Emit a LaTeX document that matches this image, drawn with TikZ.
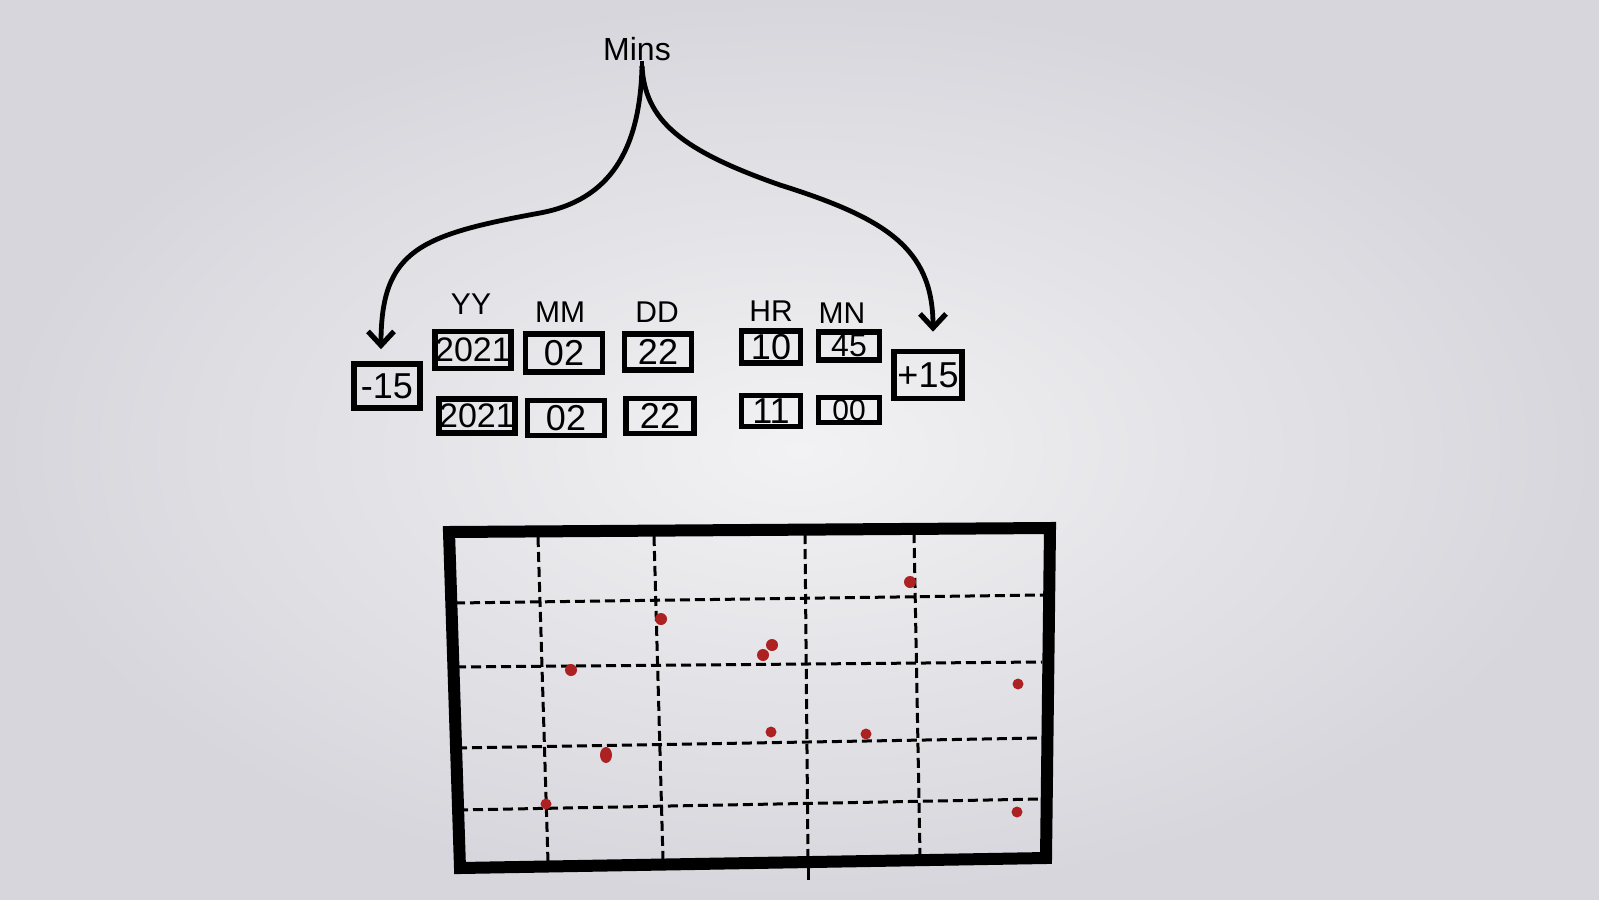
\documentclass[tikz,border=0pt]{standalone}
\usepackage{fontspec}
\setmainfont{Liberation Sans}
\usetikzlibrary{arrows.meta}
\definecolor{bgin}{RGB}{242,242,244}
\definecolor{bgout}{RGB}{214,214,220}
\definecolor{dotred}{RGB}{172,34,34}
\begin{document}
\begin{tikzpicture}[x=0.5pt,y=-0.5pt,
  valbox/.style={draw=black,line width=2.8pt,inner sep=0pt,font=\fontsize{18}{18}\selectfont},
  lab/.style={inner sep=0pt,font=\fontsize{15}{15}\selectfont},
  gridline/.style={line width=1.5pt,dash pattern=on 5pt off 2.5pt},
  conn/.style={line width=2.4pt,-{Straight Barb[length=7pt,width=13pt,line width=2.6pt]}},
  dot/.style={fill=dotred}]
\useasboundingbox (0,0) rectangle (1599,899);
\shade[inner color=bgin,outer color=bgout] (0,0) rectangle (1599,899);

% title
\node[lab,font=\fontsize{16}{16}\selectfont] (mins) at (637,49) {Mins};
\coordinate (fork) at (642,66);

% column labels
\node[lab] (lyy) at (471,304) {YY};
\node[lab] (lmm) at (560,312) {MM};
\node[lab] (ldd) at (657,312) {DD};
\node[lab] (lhr) at (771,311) {HR};
\node[lab] (lmn) at (842,313) {MN};

% value boxes
\node[valbox,minimum width=33pt,minimum height=22pt] (m15) at (387,386) {-15};
\node[valbox,minimum width=34pt,minimum height=23.5pt] (p15) at (928,375) {+15};

\node[valbox,font=\fontsize{17}{17}\selectfont,minimum width=37.5pt,minimum height=18.5pt] (yy1) at (473,350) {2021};
\node[valbox,minimum width=38.5pt,minimum height=19pt] (mm1) at (564,353) {02};
\node[valbox,minimum width=33.5pt,minimum height=18pt] (dd1) at (658,352) {22};
\node[valbox,minimum width=29.5pt,minimum height=16pt] (hr1) at (771,347) {10};
\node[valbox,font=\fontsize{16}{16}\selectfont,minimum width=30.5pt,minimum height=14pt] (mn1) at (849,346) {45};

\node[valbox,font=\fontsize{17}{17}\selectfont,minimum width=35.5pt,minimum height=17pt] (yy2) at (477,416) {2021};
\node[valbox,minimum width=38.5pt,minimum height=17.5pt] (mm2) at (566,418) {02};
\node[valbox,minimum width=34pt,minimum height=17.5pt] (dd2) at (660,416) {22};
\node[valbox,minimum width=29.5pt,minimum height=15.5pt] (hr2) at (771,411) {11};
\node[valbox,font=\fontsize{15}{15}\selectfont,minimum width=30.5pt,minimum height=12.5pt] (mn2) at (849,410) {00};

% connectors
\draw[line width=2.4pt] (mins.south -| fork) -- (fork);
\draw[conn,shorten >=6pt] (fork) .. controls (640,150) and (610,200) .. (540,213)
      .. controls (420,235) and (381,250) .. (m15.north -| 381,0);
\draw[conn,shorten >=8.5pt] (fork) .. controls (645,120) and (680,150) .. (780,185)
      .. controls (885,218) and (933,248) .. (p15.north -| 933,0);

% plot grid
\draw[gridline] (538,537) -- (548,862);
\draw[gridline] (654,536) -- (663,860);
\draw[gridline] (805,534) -- (808,860);
\draw[gridline] (914,533) -- (920,855);
\draw[gridline] (455,603) -- (1043,595);
\draw[gridline] (456,667) -- (1042,662);
\draw[gridline] (457,748) -- (1042,738);
\draw[gridline] (458,810) -- (1041,799);
\draw[line width=1.5pt] (808,860) -- (808,880);

% data points
\fill[dot] (910,582) circle[radius=6];
\fill[dot] (661,619) circle[radius=6];
\fill[dot] (772,645) circle[radius=6];
\fill[dot] (763,655) circle[radius=6];
\fill[dot] (571,670) circle[radius=6];
\fill[dot] (1018,684) circle[radius=5.5];
\fill[dot] (771,732) circle[radius=5.5];
\fill[dot] (866,734) circle[radius=5.5];
\fill[dot] (606,755) ellipse[x radius=6,y radius=8];
\fill[dot] (546,804) circle[radius=5.5];
\fill[dot] (1017,812) circle[radius=5.5];

% plot frame
\draw[line width=6pt,line join=miter] (449,532) -- (1050,528) -- (1046,858) -- (460,868) -- cycle;
\end{tikzpicture}
\end{document}
